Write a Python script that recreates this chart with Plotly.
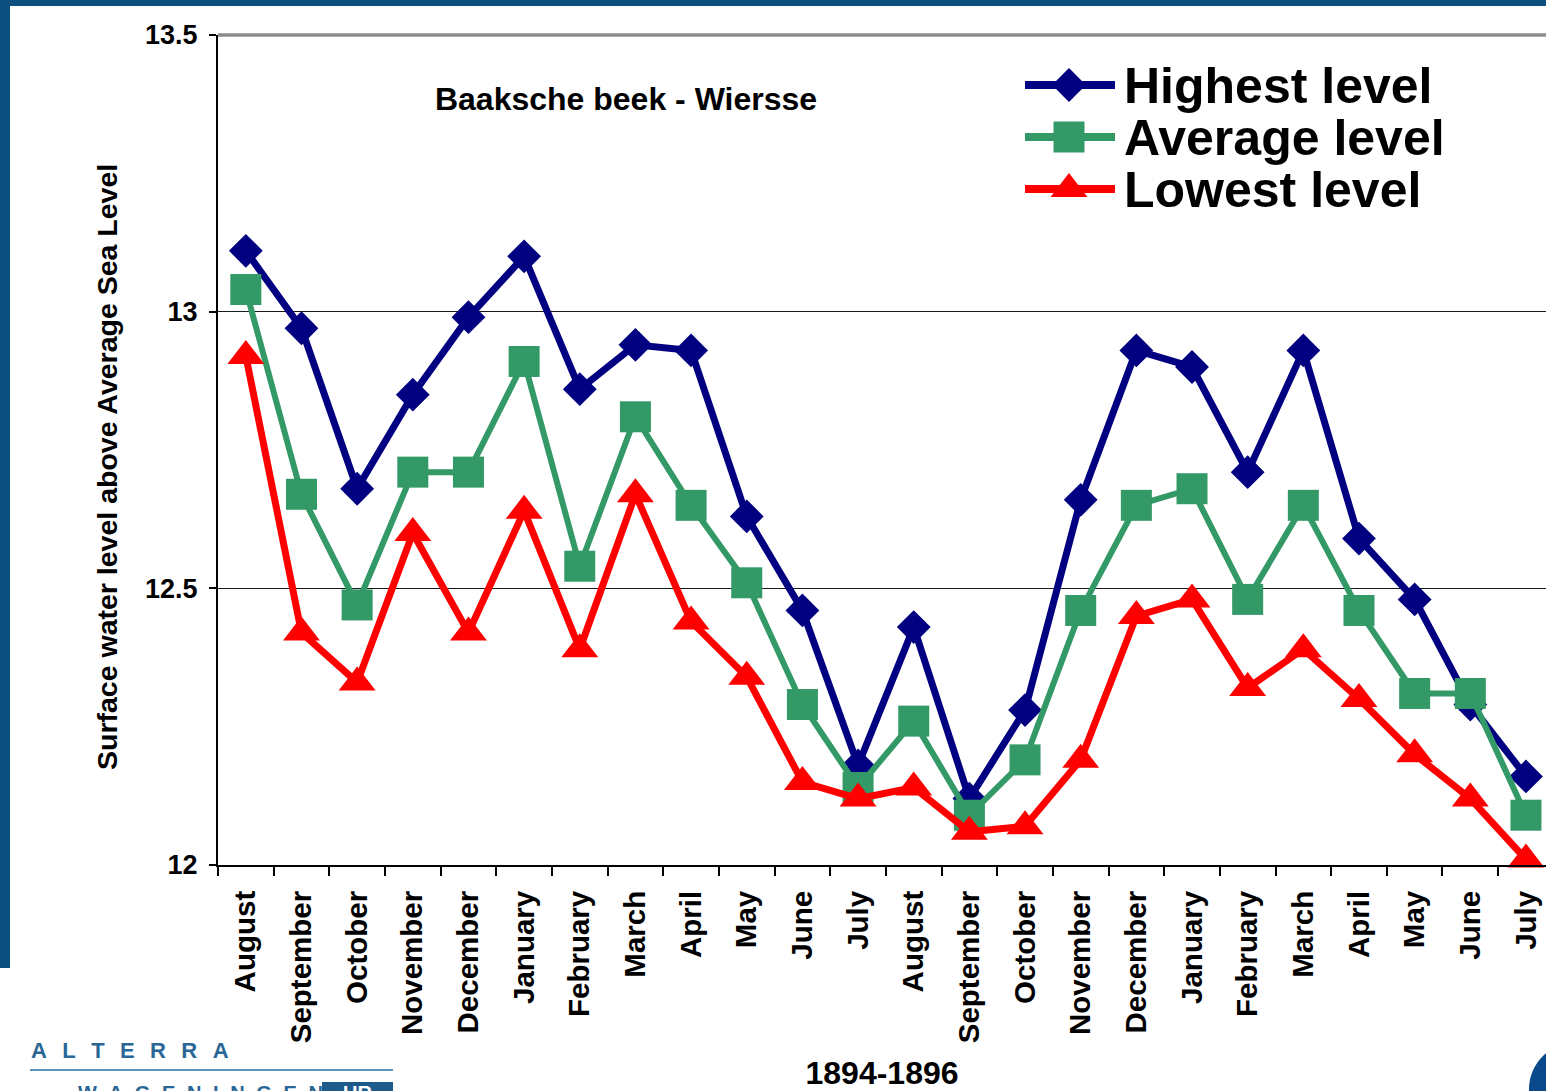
import plotly.graph_objects as go

# Monthly surface water levels, Baaksche beek - Wiersse, Aug 1894 - Jul 1896
months = ["August", "September", "October", "November", "December", "January",
          "February", "March", "April", "May", "June", "July",
          "August", "September", "October", "November", "December", "January",
          "February", "March", "April", "May", "June", "July"]

highest = [13.11, 12.97, 12.68, 12.85, 12.99, 13.10, 12.86, 12.94, 12.93, 12.63, 12.46, 12.18,
           12.43, 12.12, 12.28, 12.66, 12.93, 12.90, 12.71, 12.93, 12.59, 12.48, 12.29, 12.16]
average = [13.04, 12.67, 12.47, 12.71, 12.71, 12.91, 12.54, 12.81, 12.65, 12.51, 12.29, 12.14,
           12.26, 12.09, 12.19, 12.46, 12.65, 12.68, 12.48, 12.65, 12.46, 12.31, 12.31, 12.09]
lowest = [12.92, 12.42, 12.33, 12.60, 12.42, 12.64, 12.39, 12.67, 12.44, 12.34, 12.15, 12.12,
          12.14, 12.06, 12.07, 12.19, 12.45, 12.48, 12.32, 12.39, 12.30, 12.20, 12.12, 12.01]

series_names = ["Highest level", "Average level", "Lowest level"]
y_ticks = [12, 12.5, 13, 13.5]
y_tick_text = ["12", "12.5", "13", "13.5"]

FONT = "Liberation Sans, Arial, Helvetica, sans-serif"
NAVY = "#000080"
GREEN = "#339966"
RED = "#FF0000"
SLIDE_BLUE = "#0B4F7E"

W, H = 1546, 1091
ML, MR, MT, MB = 218, 0, 35, 226
PW, PH = W - ML - MR, H - MT - MB


def px_x(px):
    return (px - ML) / PW


def px_y(py):
    return (H - MB - py) / PH


styles = [
    dict(color=NAVY, width=7, symbol="diamond", size=26),
    dict(color=GREEN, width=6, symbol="square", size=31),
    dict(color=RED, width=7, symbol="triangle-up", size=32),
]

x = list(range(len(months)))
fig = go.Figure()

for name, values, st in zip(series_names, [highest, average, lowest], styles):
    fig.add_trace(go.Scatter(
        x=x, y=values, name=name, mode="lines+markers",
        line=dict(color=st["color"], width=st["width"]),
        marker=dict(symbol=st["symbol"], size=st["size"], color=st["color"],
                    opacity=1, line=dict(width=0)),
        showlegend=False, cliponaxis=False,
    ))

# Legend keys drawn on a pixel-scaled overlay axis
legend_rows = [85, 137, 189]
for name, row, st in zip(series_names, legend_rows, styles):
    fig.add_trace(go.Scatter(
        x=[1025, 1069, 1115], y=[row, row, row], mode="lines+markers",
        line=dict(color=st["color"], width=8),
        marker=dict(symbol=st["symbol"], size=[0, st["size"], 0], color=st["color"],
                    opacity=1, line=dict(width=0)),
        xaxis="x2", yaxis="y2", showlegend=False, hoverinfo="skip",
    ))
    fig.add_annotation(
        x=1122, y=row + 1, xref="x2", yref="y2", text=name, showarrow=False,
        xanchor="left", yanchor="middle",
        font=dict(family=FONT, size=50, color="black", weight="bold"),
    )

# Vertical axis caption
fig.add_annotation(
    x=px_x(107), y=px_y(467), xref="paper", yref="paper", textangle=-90,
    text="Surface water level above Average Sea Level", showarrow=False,
    xanchor="center", yanchor="middle",
    font=dict(family=FONT, size=28.5, color="black", weight="bold"),
)

shapes = [
    # grey plot-area border along the top
    dict(type="line", xref="x domain", yref="y domain", x0=0, x1=1, y0=1, y1=1,
         line=dict(color="#8C8C8C", width=3.5), layer="above"),
    # slide frame
    dict(type="rect", xref="paper", yref="paper", x0=px_x(0), x1=px_x(W), y0=px_y(6), y1=px_y(0),
         fillcolor=SLIDE_BLUE, line=dict(width=0)),
    dict(type="rect", xref="paper", yref="paper", x0=px_x(0), x1=px_x(10), y0=px_y(968), y1=px_y(0),
         fillcolor=SLIDE_BLUE, line=dict(width=0)),
    # logo rule and badge
    dict(type="line", xref="paper", yref="paper", x0=px_x(30), x1=px_x(393), y0=px_y(1070), y1=px_y(1070),
         line=dict(color="#5A92BC", width=2)),
    dict(type="rect", xref="paper", yref="paper", x0=px_x(322), x1=px_x(393), y0=px_y(1095), y1=px_y(1082),
         fillcolor="#1E5A8A", line=dict(width=0)),
    dict(type="circle", xref="paper", yref="paper", x0=px_x(1529), x1=px_x(1621), y0=px_y(1135), y1=px_y(1043),
         fillcolor="#0A4A8C", line=dict(width=0)),
]

sp = "\u2002\u2009"
fig.add_annotation(x=px_x(29), y=px_y(1050), xref="paper", yref="paper", xanchor="left", yanchor="middle",
                   text=sp.join("ALTERRA"), showarrow=False,
                   font=dict(family=FONT, size=22, color="#2A6796", weight="bold"))
fig.add_annotation(x=px_x(76), y=px_y(1093), xref="paper", yref="paper", xanchor="left", yanchor="middle",
                   text="\u2002\u200a".join("WAGENINGEN"), showarrow=False,
                   font=dict(family=FONT, size=20, color="#2A6796", weight="bold"))
fig.add_annotation(x=px_x(357), y=px_y(1093), xref="paper", yref="paper", xanchor="center", yanchor="middle",
                   text="UR", showarrow=False,
                   font=dict(family=FONT, size=20, color="white", weight="bold"))

fig.update_layout(
    width=W, height=H,
    margin=dict(l=ML, r=MR, t=MT, b=MB, pad=0),
    paper_bgcolor="white", plot_bgcolor="white",
    font=dict(family=FONT, color="black"),
    title=dict(text="Baaksche beek - Wiersse", x=626 / W, y=1 - 99 / H,
               xref="container", yref="container", xanchor="center", yanchor="middle",
               font=dict(family=FONT, size=32, color="black", weight="bold")),
    shapes=shapes,
    xaxis=dict(
        range=[-0.5, 23.36], tickmode="array", tickvals=x, ticktext=months,
        tickangle=-90, ticks="", showgrid=False, zeroline=False,
        showline=True, linecolor="black", linewidth=2,
        ticklabelstandoff=12,
        tickfont=dict(family=FONT, size=29.5, color="black", weight="bold"),
        minor=dict(tick0=-0.5, dtick=1, ticks="outside", ticklen=9, tickwidth=2,
                   tickcolor="black", showgrid=False),
        title=dict(text="1894-1896", standoff=23,
                   font=dict(family=FONT, size=32, color="black", weight="bold")),
    ),
    yaxis=dict(
        range=[12, 13.5], tickmode="array", tickvals=y_ticks, ticktext=y_tick_text,
        ticks="outside", ticklen=7, tickwidth=2, tickcolor="black",
        ticklabelstandoff=6,
        showgrid=True, gridcolor="#1A1A1A", gridwidth=1, zeroline=False,
        showline=True, linecolor="black", linewidth=2,
        tickfont=dict(family=FONT, size=27, color="black", weight="bold"),
    ),
    xaxis2=dict(overlaying="x", anchor="y2", range=[ML, W - MR], visible=False),
    yaxis2=dict(overlaying="y", anchor="x2", range=[H - MB, MT], visible=False),
)

fig.write_html("out.html")
